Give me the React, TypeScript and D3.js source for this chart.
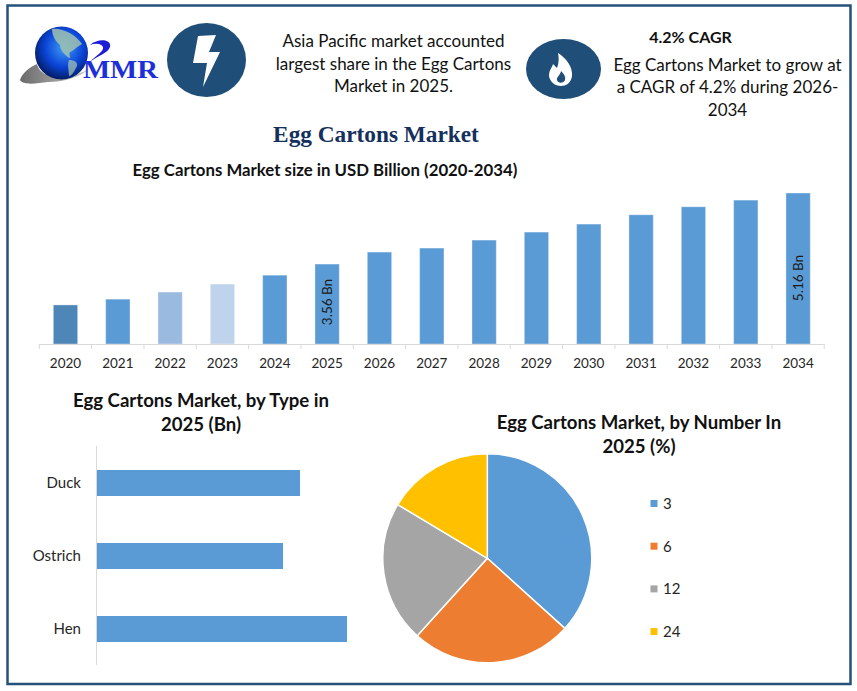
import React from "react";
import * as d3 from "d3";

const years = ["2020","2021","2022","2023","2024","2025","2026","2027","2028","2029","2030","2031","2032","2033","2034"];
const sizes = [2.64,2.77,2.93,3.11,3.31,3.56,3.83,3.92,4.10,4.28,4.46,4.67,4.85,5.0,5.16];
const barFills = ["#4f86b8","#5b9bd5","#9bbae0","#c0d3ec","#5b9bd5","#5b9bd5","#5b9bd5","#5b9bd5","#5b9bd5","#5b9bd5","#5b9bd5","#5b9bd5","#5b9bd5","#5b9bd5","#5b9bd5"];
const barLabels: Record<string,string> = { "2025": "3.56 Bn", "2034": "5.16 Bn" };
const types = ["Duck","Ostrich","Hen"];
const typeValues = [203,186,250];
const numbers = ["3","6","12","24"];
const numberShares = [36.7,25,21.9,16.4];
const pieColors = ["#5b9bd5","#ed7d31","#a5a5a5","#ffc000"];
const sans = "Lato, 'Open Sans', sans-serif";
const navy = "#1f4e79";

export default function App() {
  const x = d3.scaleBand().domain(years).range([39.3, 824.3]).paddingInner(0.535).paddingOuter(0.268);
  const y = d3.scaleLinear().domain([1.76, 5.16]).range([344, 193]);
  const step = x.step();
  const ty = d3.scaleBand().domain(types).range([446.5, 665.5]).paddingInner(0.644).paddingOuter(0.322);
  const tx = d3.scaleLinear().domain([0, 250]).range([97, 347]);
  const pie = d3.pie<number>().sort(null)(numberShares);
  const arc = d3.arc<d3.PieArcDatum<number>>().innerRadius(0).outerRadius(104.5);
  return (
    <svg width={857} height={691} style={{ position: "absolute", left: 0, top: 0, background: "#fff" }} fontFamily={sans}>
      <defs>
        <radialGradient id="globe" cx="0.55" cy="0.4" r="0.65">
          <stop offset="0" stopColor="#3f9bf5" />
          <stop offset="0.55" stopColor="#0b45d8" />
          <stop offset="1" stopColor="#021450" />
        </radialGradient>
        <linearGradient id="swoosh" x1="0" y1="0" x2="1" y2="0">
          <stop offset="0" stopColor="#6a6a6a" />
          <stop offset="0.5" stopColor="#9a9a9a" />
          <stop offset="1" stopColor="#d0d0d0" />
        </linearGradient>
      </defs>
      <rect x={7.5} y={5.5} width={843} height={678.5} fill="none" stroke="#24527a" strokeWidth={2.5} />

      {/* logo */}
      <path d="M20 80 C22 73 30 67 37 64 C38 69 42 73 48 75 C62 78 78 76 90 68 C80 78 62 82 48 82 C38 83 24 86 20 80 Z" fill="url(#swoosh)" />
      <circle cx={61.5} cy={53} r={26.5} fill="url(#globe)" />
      <path d="M52 29 C60 27 76 34 82 44 C76 47 74 51 70 52 C68 55 72 58 69 58 C64 54 60 50 60 45 C56 42 52 36 52 29 Z" fill="#9fc2b0" opacity={0.85} />
      <path d="M69 60 C74 60 78 62 77 66 C75 70 72 76 69 76 C69 71 67 64 69 60 Z" fill="#9fc2b0" opacity={0.75} />
      <path d="M90 45 C98 38 112 39 110 47 C108 53 99 55 90 62 C96 55 104 52 103 47 C101 43 95 43 90 45 Z" fill="#1d1dd8" />
      <text x={83} y={78} fontFamily="'Liberation Serif', serif" fontWeight={700} fontSize={26} fill="#1d2fd8" textLength={75} lengthAdjust="spacingAndGlyphs">MMR</text>

      {/* bolt badge */}
      <ellipse cx={206.5} cy={60} rx={39.5} ry={37} fill={navy} />
      <path d="M198 36 L216 35 L209 52 L220 52 L203 87 L207 63 L193 63 Z" fill="#fff" />

      <g fontSize={17} fill="#111" textAnchor="middle">
        <text x={393.5} y={47}>Asia Pacific market accounted</text>
        <text x={393.5} y={69.5}>largest share in the Egg Cartons</text>
        <text x={393.5} y={92}>Market in 2025.</text>
      </g>

      {/* flame badge */}
      <ellipse cx={563.5} cy={69} rx={37.5} ry={30} fill={navy} />
      <path d="M558 53 C566 58 573 67 572 76 C571 83 566 86 561 86 C555 86 550 82 549 76 C549 70 552 68 553 64 C555 66 556 67 557 68 C559 63 559 58 558 53 Z" fill="#fff" />
      <path d="M561 71 C564 74 566 77 565 80 C564 83 558 84 557 80 C556 77 560 76 561 71 Z" fill={navy} />

      <text x={690.5} y={42.5} fontSize={16} fontWeight={700} textAnchor="middle" fill="#111">4.2% CAGR</text>
      <g fontSize={17} fill="#111" textAnchor="middle">
        <text x={727.5} y={71}>Egg Cartons Market to grow at</text>
        <text x={727.5} y={93}>a CAGR of 4.2% during 2026-</text>
        <text x={727.5} y={116}>2034</text>
      </g>

      <text x={376} y={142} fontFamily="'Liberation Serif', serif" fontWeight={700} fontSize={23.3} textAnchor="middle" fill="#14305c">Egg Cartons Market</text>
      <text x={325} y={176} fontSize={16.8} fontWeight={700} textAnchor="middle" fill="#111">Egg Cartons Market size in USD Billion (2020-2034)</text>

      {/* bar chart */}
      {years.map((yr, i) => (
        <rect key={yr} x={x(yr)} y={y(sizes[i])} width={x.bandwidth()} height={344 - y(sizes[i])} fill={barFills[i]} stroke="#fff" strokeOpacity={0.35} />
      ))}
      <line x1={39.3} x2={824.3} y1={344.5} y2={344.5} stroke="#d9d9d9" />
      {d3.range(years.length + 1).map(i => (
        <line key={i} x1={39.3 + i * step} x2={39.3 + i * step} y1={344} y2={349} stroke="#d9d9d9" />
      ))}
      {years.map(yr => (
        <text key={yr} x={x(yr)! + x.bandwidth() / 2} y={368} fontSize={13.5} textAnchor="middle" fill="#262626">{yr}</text>
      ))}
      {years.filter(yr => barLabels[yr]).map((yr) => {
        const cx = x(yr)! + x.bandwidth() / 2;
        const labelY = yr === "2025" ? 302 : 278;
        return (
          <text key={yr} transform={`translate(${cx + 4.5},${labelY}) rotate(-90)`} fontSize={13.5} textAnchor="middle" fill="#1a1a1a">{barLabels[yr]}</text>
        );
      })}

      {/* type chart */}
      <g fontSize={18.6} fontWeight={700} textAnchor="middle" fill="#111">
        <text x={201} y={407}>Egg Cartons Market, by Type in</text>
        <text x={201} y={431}>2025 (Bn)</text>
      </g>
      {types.map((t, i) => (
        <g key={t}>
          <rect x={tx(0)} y={ty(t)} width={tx(typeValues[i]) - tx(0)} height={ty.bandwidth()} fill="#5b9bd5" />
          <text x={81} y={ty(t)! + ty.bandwidth() / 2 + 5} fontSize={15} textAnchor="end" fill="#262626">{t}</text>
        </g>
      ))}
      <line x1={96.5} x2={96.5} y1={446} y2={665} stroke="#d9d9d9" />

      {/* pie */}
      <g fontSize={18.6} fontWeight={700} textAnchor="middle" fill="#111">
        <text x={639} y={429}>Egg Cartons Market, by Number In</text>
        <text x={639} y={453}>2025 (%)</text>
      </g>
      <g transform="translate(487.3,558.3)">
        {pie.map((s, i) => (
          <path key={numbers[i]} d={arc(s)!} fill={pieColors[i]} stroke="#fff" strokeWidth={1.5} />
        ))}
      </g>
      {numbers.map((n, i) => (
        <g key={n}>
          <rect x={650.5} y={500 + i * 42.7} width={7} height={7} fill={pieColors[i]} />
          <text x={663} y={509 + i * 42.7} fontSize={15} fill="#262626">{n}</text>
        </g>
      ))}
    </svg>
  );
}
